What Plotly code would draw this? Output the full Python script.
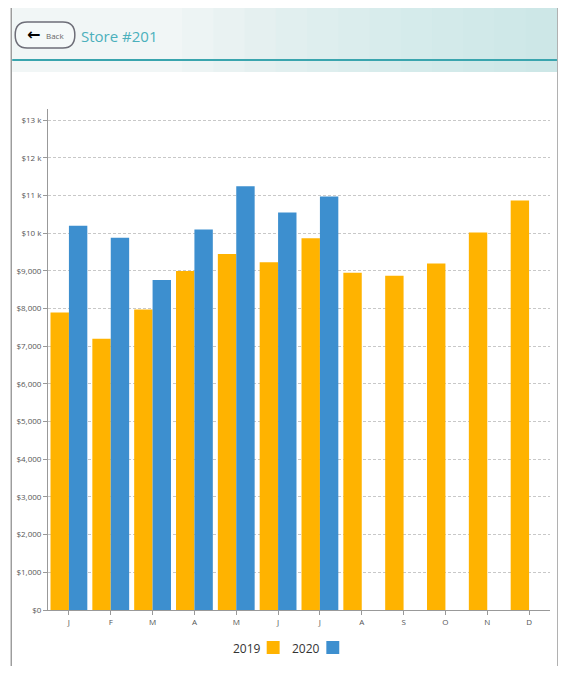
import plotly.graph_objects as go

months = ["J", "F", "M", "A", "M", "J", "J", "A", "S", "O", "N", "D"]
sales_2019 = [7900, 7200, 7980, 9000, 9450, 9230, 9870, 8950, 8870, 9200, 10020, 10870]
sales_2020 = [10200, 9880, 8760, 10100, 11250, 10550, 10980]
tick_vals = list(range(0, 14000, 1000))
tick_text = ["$0", "$1,000", "$2,000", "$3,000", "$4,000", "$5,000", "$6,000", "$7,000",
             "$8,000", "$9,000", "$10 k", "$11 k", "$12 k", "$13 k"]

OFF = 8  # page body margin
W, H = 566 - 2 * OFF, 674 - 2 * OFF
L, R, T, B = 45 - OFF, 16 - OFF, 109 - OFF, 64 - OFF
pw, ph = W - L - R, H - T - B
def px(x): return (x - OFF - L) / pw
def py(y): return (H - B - (y - OFF)) / ph

idx = list(range(12))
fig = go.Figure()
fig.add_bar(x=idx, y=sales_2019, name="2019", marker_color="#FFB300", marker_line_width=0)
fig.add_bar(x=idx[:len(sales_2020)], y=sales_2020, name="2020", marker_color="#3D8FCF", marker_line_width=0)

shapes = []
annos = []
shapes.append(dict(type="rect", xref="paper", yref="paper", x0=px(8), x1=px(558), y0=py(7), y1=py(667),
                   line=dict(color="#888888", width=1.2), layer="below"))
# header band with soft gradient
shapes.append(dict(type="rect", xref="paper", yref="paper", x0=px(9), x1=px(557), y0=py(8), y1=py(72),
                   fillcolor="#F1F6F6", line_width=0, layer="below"))
steps = 12
for i in range(steps):
    x0 = 180 + i * (377 / steps)
    shapes.append(dict(type="rect", xref="paper", yref="paper", x0=px(x0), x1=px(557), y0=py(8), y1=py(72),
                       fillcolor="#BFE8E3", opacity=0.07, line_width=0, layer="below"))
shapes.append(dict(type="line", xref="paper", yref="paper", x0=px(9), x1=px(557), y0=py(60), y1=py(60),
                   line=dict(color="#3AA5AE", width=2)))
shapes.append(dict(type="path", xref="paper", yref="paper",
                   path=f"M {px(24)},{py(22)} L {px(60)},{py(22)} Q {px(72)},{py(22)} {px(72)},{py(35)} "
                        f"Q {px(72)},{py(48)} {px(60)},{py(48)} L {px(24)},{py(48)} Q {px(12)},{py(48)} {px(12)},{py(35)} "
                        f"Q {px(12)},{py(22)} {px(24)},{py(22)} Z",
                   line=dict(color="#6E6E78", width=1.5), fillcolor="rgba(255,255,255,0.3)"))
annos.append(dict(xref="paper", yref="paper", x=px(30), y=py(34), text="<b>←</b>", showarrow=False,
                  font=dict(size=16, color="black", family="DejaVu Sans"), xanchor="center", yanchor="middle"))
annos.append(dict(xref="paper", yref="paper", x=px(52), y=py(35), text="Back", showarrow=False,
                  font=dict(size=8, color="#666666"), xanchor="center", yanchor="middle"))
annos.append(dict(xref="paper", yref="paper", x=px(76), y=py(36), text="Store #201", showarrow=False,
                  font=dict(size=15, color="#4BB0BC", family="Open Sans"), xanchor="left", yanchor="middle"))
annos.append(dict(xref="paper", yref="paper", x=px(261), y=py(648), text="2019", showarrow=False,
                  font=dict(size=12, color="#333333"), xanchor="right", yanchor="middle"))
shapes.append(dict(type="rect", xref="paper", yref="paper", x0=px(265), x1=px(278), y0=py(641), y1=py(654),
                   fillcolor="#FFB300", line_width=0))
annos.append(dict(xref="paper", yref="paper", x=px(321), y=py(648), text="2020", showarrow=False,
                  font=dict(size=12, color="#333333"), xanchor="right", yanchor="middle"))
shapes.append(dict(type="rect", xref="paper", yref="paper", x0=px(325), x1=px(338), y0=py(641), y1=py(654),
                   fillcolor="#3D8FCF", line_width=0))

fig.update_layout(
    width=W, height=H, margin=dict(l=L, r=R, t=T, b=B),
    paper_bgcolor="white", plot_bgcolor="white",
    barmode="group", bargap=0.12, bargroupgap=0,
    showlegend=False, shapes=shapes, annotations=annos,
    font=dict(family="Open Sans", color="#555555"),
)
fig.update_xaxes(tickvals=idx, ticktext=months, range=[-0.5, 11.5], showline=True, linecolor="#999999",
                 ticks="outside", ticklen=4, tickcolor="#999999", tickfont=dict(size=8, color="#555555"),
                 showgrid=False)
fig.update_yaxes(tickvals=tick_vals, ticktext=tick_text, range=[0, 13300], showline=True, linecolor="#999999",
                 ticks="outside", ticklen=4, tickcolor="#999999", tickfont=dict(size=8, color="#555555"),
                 showgrid=True, gridcolor="#C8C8C8", griddash="3px,2px", zeroline=False)
fig.write_html("out.html")
